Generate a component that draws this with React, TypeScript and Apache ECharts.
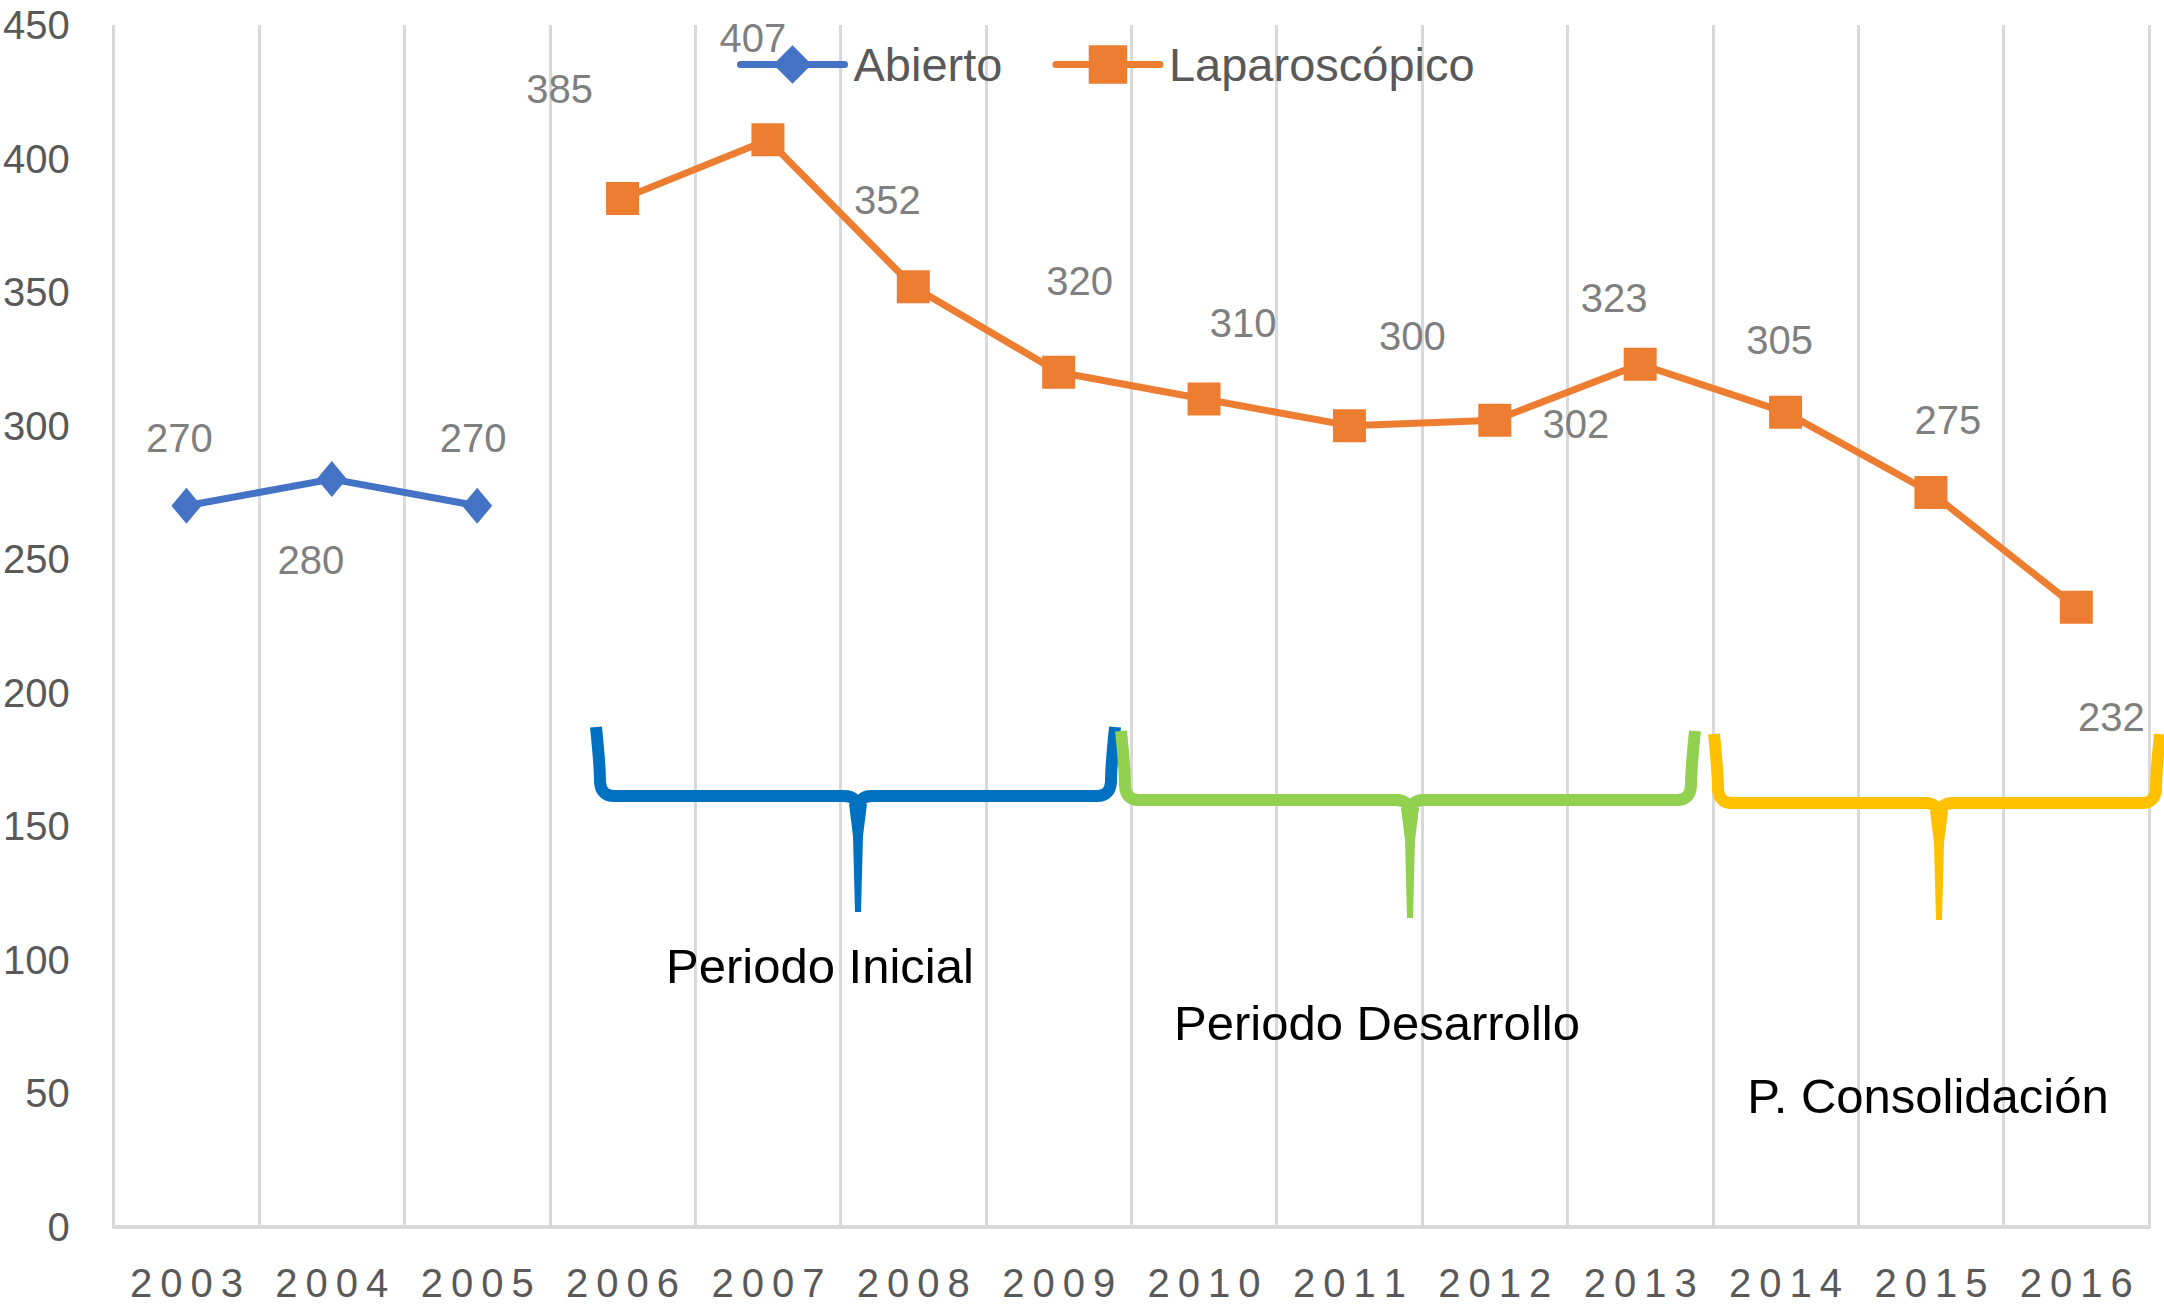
import React, { useEffect, useRef } from "react";
import * as echarts from "echarts";

const years = ["2003", "2004", "2005", "2006", "2007", "2008", "2009", "2010", "2011", "2012", "2013", "2014", "2015", "2016"];
const abiertoValues = [270, 280, 270, null, null, null, null, null, null, null, null, null, null, null];
const laparoscopicoValues = [null, null, null, 385, 407, 352, 320, 310, 300, 302, 323, 305, 275, 232];
const yTicks = { min: 0, max: 450, interval: 50 };
const periodLabels = ["Periodo Inicial", "Periodo Desarrollo", "P. Consolidación"];

// label placement (style only, pixel offsets from each point)
const abiertoLabelOffsets = [[-7, -68], [-21, 81], [-4, -68]];
const laparoscopicoLabelOffsets = [
  null, null, null,
  [-63, -110], [-15, -102], [-26, -87], [21, -91], [39, -76], [63, -90],
  [81, 4], [-26, -66], [-6, -72], [17, -72], [35, 110],
];

const FONT = "'Liberation Sans', Arial, Helvetica, sans-serif";

type Brace = { name: string; color: string; x0: number; x1: number; xt: number; yTop: number; yBar: number; yTip: number };
const braces: Brace[] = [
  { name: "braceInicial", color: "#0070C0", x0: 596, x1: 1115, xt: 858, yTop: 727, yBar: 796, yTip: 912 },
  { name: "braceDesarrollo", color: "#92D050", x0: 1121, x1: 1695, xt: 1410, yTop: 731, yBar: 800, yTip: 918 },
  { name: "braceConsolidacion", color: "#FFC000", x0: 1714, x1: 2160, xt: 1939, yTop: 734, yBar: 803, yTip: 920 },
];
const periodTextPos = [[820, 966], [1377, 1023], [1928, 1096]];

function bracePath(b: Brace) {
  const r = 14;
  const { x0, x1, xt, yTop, yBar } = b;
  return (
    `M ${x0} ${yTop} Q ${x0 + 4} ${yBar - 30} ${x0 + 4} ${yBar - r} Q ${x0 + 5} ${yBar} ${x0 + 4 + r} ${yBar} ` +
    `L ${xt - r} ${yBar} Q ${xt} ${yBar} ${xt} ${yBar + r} ` +
    `M ${xt} ${yBar + r} Q ${xt} ${yBar} ${xt + r} ${yBar} ` +
    `L ${x1 - 4 - r} ${yBar} Q ${x1 - 5} ${yBar} ${x1 - 4} ${yBar - r} Q ${x1 - 4} ${yBar - 30} ${x1} ${yTop}`
  );
}

braces.forEach((b) => {
  echarts.graphic.registerShape(b.name, echarts.graphic.extendPath(bracePath(b), {}));
});

function toItems(values: (number | null)[], offsets: (number[] | null)[]) {
  return values.map((v, i) => {
    if (v === null) return "-";
    const off = offsets[i] || [0, -60];
    return { value: v, label: { offset: off } };
  });
}

export default function App() {
  const ref = useRef<HTMLDivElement>(null);
  useEffect(() => {
    if (!ref.current) return;
    const chart = echarts.init(ref.current, undefined, { renderer: "svg" });
    const graphicElements: any[] = [];
    braces.forEach((b, i) => {
      graphicElements.push({
        type: b.name,
        x: 0,
        y: 0,
        z: 10,
        style: { stroke: b.color, lineWidth: 12, fill: "none", lineJoin: "round", lineCap: "butt" },
      });
      graphicElements.push({
        type: "polygon",
        z: 10,
        shape: {
          points: [
            [b.xt - 9, b.yBar + 8],
            [b.xt + 9, b.yBar + 8],
            [b.xt + 5, b.yBar + 40],
            [b.xt + 3, b.yTip],
            [b.xt - 3, b.yTip],
            [b.xt - 5, b.yBar + 40],
          ],
        },
        style: { fill: b.color },
      });
      graphicElements.push({
        type: "text",
        z: 10,
        x: periodTextPos[i][0],
        y: periodTextPos[i][1],
        style: {
          text: periodLabels[i],
          fontSize: 49,
          fontFamily: FONT,
          fill: "#000000",
          align: "center",
          verticalAlign: "middle",
        },
      });
    });

    const labelStyle = {
      show: true,
      position: "inside",
      fontSize: 40,
      color: "#7F7F7F",
      fontFamily: FONT,
    };

    chart.setOption({
      animation: false,
      backgroundColor: "#FFFFFF",
      grid: { left: 113, right: 15, top: 25, bottom: 88 },
      legend: {
        left: 732,
        top: 36,
        itemWidth: 104,
        itemHeight: 48,
        itemGap: 50,
        lineStyle: { width: 7, cap: "round" },
        textStyle: { fontSize: 47, color: "#595959", fontFamily: FONT, padding: [0, 0, 0, 4] },
        data: ["Abierto", "Laparoscópico"],
      },
      xAxis: {
        type: "category",
        data: years,
        boundaryGap: true,
        axisTick: { show: false },
        axisLine: { lineStyle: { color: "#D9D9D9", width: 4 } },
        splitLine: { show: true, interval: 0, lineStyle: { color: "#D9D9D9", width: 3 } },
        axisLabel: {
          interval: 0,
          fontSize: 40,
          color: "#595959",
          fontFamily: FONT,
          margin: 36,
          formatter: (v: string) => v.split("").join("\u2009"),
        },
      },
      yAxis: {
        type: "value",
        min: yTicks.min,
        max: yTicks.max,
        interval: yTicks.interval,
        axisLine: { show: false },
        axisTick: { show: false },
        splitLine: { show: false },
        axisLabel: { fontSize: 40, color: "#595959", fontFamily: FONT, margin: 44 },
      },
      series: [
        {
          name: "Abierto",
          type: "line",
          data: toItems(abiertoValues, abiertoLabelOffsets),
          symbol: "diamond",
          symbolSize: [30, 36],
          itemStyle: { color: "#4472C4" },
          lineStyle: { color: "#4472C4", width: 7 },
          label: labelStyle,
          connectNulls: false,
        },
        {
          name: "Laparoscópico",
          type: "line",
          data: toItems(laparoscopicoValues, laparoscopicoLabelOffsets),
          symbol: "rect",
          symbolSize: 33,
          itemStyle: { color: "#ED7D31" },
          lineStyle: { color: "#ED7D31", width: 7 },
          label: labelStyle,
          connectNulls: false,
        },
      ],
      graphic: { elements: graphicElements },
    });
    return () => chart.dispose();
  }, []);
  return <div ref={ref} style={{ position: "absolute", left: 0, top: 0, width: 2164, height: 1315 }} />;
}
